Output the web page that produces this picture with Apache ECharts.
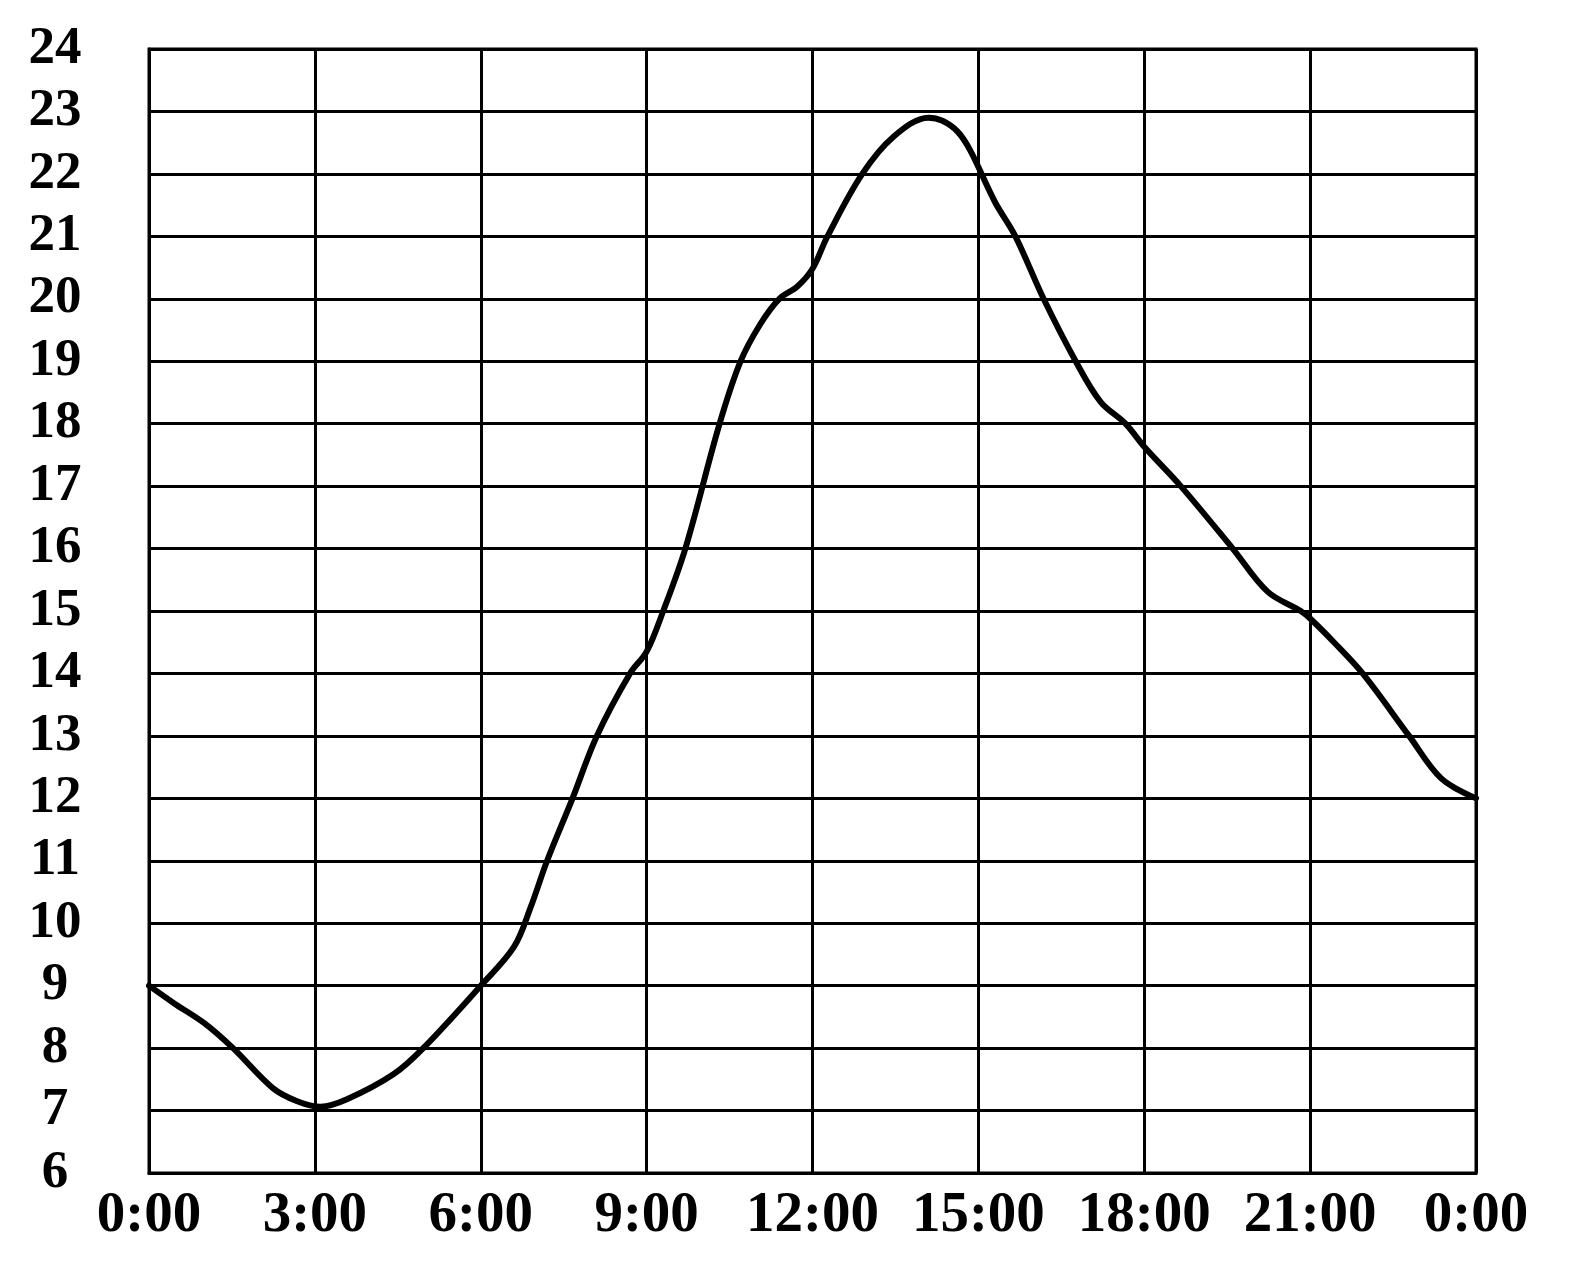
<!DOCTYPE html>
<html>
<head>
<meta charset="utf-8">
<script src="https://cdn.jsdelivr.net/npm/echarts@6/dist/echarts.min.js"></script>
<style>
html,body{margin:0;padding:0;background:#fff;}
#chart{width:1570px;height:1273px;}
</style>
</head>
<body>
<div id="chart"></div>
<script>
// Hours of the day (x) and temperature readings (y)
const hours = [0, 0.45, 1.0, 1.52, 2.24, 2.68, 3.1, 3.58, 4.42, 4.96, 6.0, 6.6, 6.9, 7.2, 7.66, 8.1, 8.7, 9.0, 9.3, 9.7, 10.32, 10.7, 11.06, 11.4, 11.73, 12.0, 12.27, 12.9, 13.47, 14.1, 14.35, 14.62, 14.85, 15.3, 15.67, 16.18, 16.76, 17.21, 17.66, 18.0, 18.66, 19.6, 20.23, 20.83, 21.0, 21.43, 21.95, 22.79, 23.37, 24];
const temps = [9.0, 8.72, 8.4, 8.0, 7.36, 7.15, 7.06, 7.18, 7.58, 8.0, 9.0, 9.62, 10.25, 11.0, 12.0, 13.0, 14.0, 14.35, 15.0, 16.0, 18.0, 19.0, 19.6, 20.0, 20.2, 20.48, 21.0, 22.0, 22.6, 22.9, 22.85, 22.68, 22.38, 21.55, 21.0, 20.0, 19.0, 18.35, 18.0, 17.63, 17.0, 16.0, 15.31, 15.0, 14.88, 14.5, 14.0, 13.0, 12.32, 12.0];
const xTickLabels = ['0:00', '3:00', '6:00', '9:00', '12:00', '15:00', '18:00', '21:00', '0:00'];
const yMin = 6, yMax = 24;

const points = hours.map((h, i) => [h, temps[i]]);

const chart = echarts.init(document.getElementById('chart'));
chart.setOption({
  animation: false,
  backgroundColor: '#fff',
  grid: {
    left: 149, right: 94, top: 49, bottom: 100,
    show: true, borderColor: '#000', borderWidth: 3, backgroundColor: 'transparent'
  },
  xAxis: {
    type: 'value', min: 0, max: 24, interval: 3,
    axisLine: { show: true, lineStyle: { color: '#000', width: 3 } },
    axisTick: { show: false },
    splitLine: { show: true, lineStyle: { color: '#000', width: 3 } },
    axisLabel: {
      margin: 43,
      verticalAlign: 'middle',
      color: '#000',
      fontFamily: '"Liberation Serif", "DejaVu Serif", serif',
      fontWeight: 'bold',
      fontSize: 57,
      showMinLabel: true, showMaxLabel: true,
      formatter: v => xTickLabels[Math.round(v / 3)]
    }
  },
  yAxis: {
    type: 'value', min: yMin, max: yMax, interval: 1,
    axisLine: { show: true, lineStyle: { color: '#000', width: 3 } },
    axisTick: { show: false },
    splitLine: { show: true, lineStyle: { color: '#000', width: 3 } },
    axisLabel: {
      margin: 94,
      align: 'center',
      verticalAlign: 'middle',
      color: '#000',
      fontFamily: '"Liberation Serif", "DejaVu Serif", serif',
      fontWeight: 'bold',
      fontSize: 53,
      showMinLabel: true, showMaxLabel: true
    }
  },
  series: [{
    type: 'line',
    data: points,
    showSymbol: false,
    smooth: 0.35,
    lineStyle: { color: '#000', width: 6, cap: 'round', join: 'round' },
    z: 5
  }]
});
</script>
</body>
</html>
